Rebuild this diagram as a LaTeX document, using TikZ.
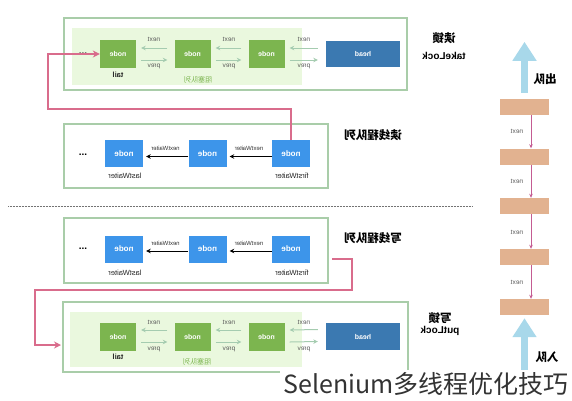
\documentclass[tikz,border=0pt]{standalone}
\usepackage{fontspec}
\usepackage{graphicx}
\setmainfont{Liberation Sans}
\newfontfamily\cjk{Noto Sans CJK SC}
\usetikzlibrary{arrows.meta}
\definecolor{boxg}{HTML}{A9CDA9}
\definecolor{fillg}{HTML}{EAF8DE}
\definecolor{nodeg}{HTML}{7CB54F}
\definecolor{headb}{HTML}{3B79B1}
\definecolor{nodeb}{HTML}{3D95EA}
\definecolor{pinkl}{HTML}{D96C8C}
\definecolor{tanc}{HTML}{E2B290}
\definecolor{lblue}{HTML}{A8D8EA}
\definecolor{nextp}{HTML}{C45C92}
\definecolor{arrg}{HTML}{A5CCB0}
\definecolor{qtext}{HTML}{7CB54F}
\newcommand{\mr}[1]{\reflectbox{#1}}
\begin{document}
\begin{tikzpicture}[x=1pt,y=-1pt,
  frame/.style={draw=boxg, line width=1.3pt, inner sep=0},
  gnode/.style={fill=nodeg, minimum width=36pt, minimum height=28pt, inner sep=0, text=white, font=\bfseries\fontsize{7}{8}\selectfont},
  headnode/.style={fill=headb, minimum width=74pt, minimum height=26pt, inner sep=0, text=white, font=\bfseries\fontsize{7}{8}\selectfont},
  bnode/.style={fill=nodeb, minimum width=38pt, minimum height=27pt, inner sep=0, text=white, font=\fontsize{8}{9}\selectfont\bfseries},
  lbl/.style={font=\fontsize{6.5}{7}\selectfont, text=black!65, inner sep=0},
  klbl/.style={font=\fontsize{6}{7}\selectfont, text=black!80, inner sep=0},
  wlbl/.style={font=\fontsize{7.5}{8}\selectfont, text=black!85, inner sep=0},
  garr/.style={draw=arrg, line width=1pt, -{Stealth[length=4.5pt,width=4.5pt]}},
  karr/.style={draw=black, line width=0.9pt, -{Stealth[length=4.5pt,width=4.5pt]}},
  pline/.style={draw=pinkl, line width=1.6pt, -{Stealth[length=7pt,width=7pt]}},
  tanbox/.style={fill=tanc, minimum width=49pt, minimum height=16pt, inner sep=0},
  parr/.style={draw=nextp, line width=0.8pt, -{Stealth[length=4pt,width=3.5pt]}},
  bigarr/.style={draw=lblue, line width=7pt, -{Triangle[width=23pt,length=19pt]}},
  ttl/.style={font=\cjk\bfseries\fontsize{11.5}{13}\selectfont, inner sep=0},
  ltl/.style={font=\bfseries\fontsize{10}{11}\selectfont, inner sep=0},
  dots/.style={font=\bfseries\fontsize{10}{11}\selectfont, inner sep=0},
  qlbl/.style={font=\cjk\fontsize{7}{8}\selectfont, text=qtext, inner sep=0}
]
\useasboundingbox (0,0) rectangle (572,400);

% ---------- top: take lock ----------
\node[frame, minimum width=343pt, minimum height=72pt] (tfr) at (235.5,54) {};
\fill[fillg] (72,28) rectangle (302,85);
\node[gnode] (t1) at (118,54) {\mr{node}};
\node[gnode] (t2) at (192.5,54) {\mr{node}};
\node[gnode] (t3) at (266.5,54) {\mr{node}};
\node[headnode] (th) at (363,54) {\mr{head}};
\draw[garr] ([xshift=-7pt,yshift=6pt]t2.west) -- ([xshift=5pt,yshift=6pt]t1.east);
\draw[garr] ([xshift=-7pt,yshift=6pt]t3.west) -- ([xshift=5pt,yshift=6pt]t2.east);
\draw[garr] ([xshift=-8pt,yshift=6pt]th.west) -- ([xshift=5pt,yshift=6pt]t3.east);
\draw[garr] ([xshift=5pt,yshift=-6pt]t1.east) -- ([xshift=-7pt,yshift=-6pt]t2.west);
\draw[garr] ([xshift=5pt,yshift=-6pt]t2.east) -- ([xshift=-7pt,yshift=-6pt]t3.west);
\draw[garr] ([xshift=5pt,yshift=-6pt]t3.east) -- ([xshift=-8pt,yshift=-6pt]th.west);
\foreach \x/\n in {154/a,229/b,304/c}{
  \node[lbl] (tn\n) at (\x,39.5) {\mr{next}};
  \node[lbl] (tp\n) at (\x,66) {\mr{prev}};
}
\node[wlbl, font=\bfseries\fontsize{7.5}{8}\selectfont] (ttail) at (118,75) {\mr{tail}};
\node[qlbl] (tq) at (198,80) {\mr{阻塞队列}};
\node[ttl] (tl1) at (444,38) {\mr{读锁}};
\node[ltl] (tl2) at (444,56) {\mr{takeLock}};

% ---------- read queue ----------
\node[frame, minimum width=264pt, minimum height=64pt] (rfr) at (196,156) {};
\node[bnode] (r1) at (124,153.5) {\mr{node}};
\node[bnode] (r2) at (207.5,153.5) {\mr{node}};
\node[bnode] (r3) at (291,153.5) {\mr{node}};
\draw[karr] ([yshift=-3pt]r3.west) -- ([yshift=-3pt,xshift=3pt]r2.east);
\draw[karr] ([yshift=-3pt]r2.west) -- ([yshift=-3pt,xshift=3pt]r1.east);
\node[klbl] (rn1) at (165.5,148) {\mr{nextWaiter}};
\node[klbl] (rn2) at (249,148) {\mr{nextWaiter}};
\node[wlbl] (rlast) at (125,176) {\mr{lastWaiter}};
\node[wlbl] (rfirst) at (292,176) {\mr{firstWaiter}};
\node[dots] (rd) at (83,155) {...};
\node[ttl] (rtl) at (373,135) {\mr{读线程队列}};

% pink connector: read queue -> take lock tail
\node[dots] (td) at (83,54) {...};
\draw[pline] (r3.north) |- (48,109) |- (t1.west);

% ---------- separator ----------
\draw[black!55, line width=0.8pt, dash pattern=on 1pt off 0.5pt] (8,206) -- (473,206);

% ---------- write queue ----------
\node[frame, minimum width=264pt, minimum height=65pt] (wfr) at (196,250.5) {};
\node[bnode] (w1) at (124,249) {\mr{node}};
\node[bnode] (w2) at (207.5,249) {\mr{node}};
\node[bnode] (w3) at (291,249) {\mr{node}};
\draw[karr] ([yshift=-2pt]w3.west) -- ([yshift=-2pt,xshift=3pt]w2.east);
\draw[karr] ([yshift=-2pt]w2.west) -- ([yshift=-2pt,xshift=3pt]w1.east);
\node[klbl] (wn1) at (165.5,243) {\mr{nextWaiter}};
\node[klbl] (wn2) at (249,243) {\mr{nextWaiter}};
\node[wlbl] (wlast) at (125,273) {\mr{lastWaiter}};
\node[wlbl] (wfirst) at (292,273) {\mr{firstWaiter}};
\node[dots] (wd) at (83,249) {...};
\node[ttl] (wtl) at (373,238) {\mr{写线程队列}};

% ---------- bottom: put lock ----------
\node[frame, minimum width=345pt, minimum height=70pt] (bfr) at (235.5,337) {};
\fill[fillg] (70,312) rectangle (302,367);
\node[gnode] (b1) at (118,337) {\mr{node}};
\node[gnode] (b2) at (192.5,337) {\mr{node}};
\node[gnode] (b3) at (266.5,337) {\mr{node}};
\node[headnode, minimum height=27pt] (bh) at (363,336.5) {\mr{head}};
\draw[garr] ([xshift=-7pt,yshift=7pt]b2.west) -- ([xshift=5pt,yshift=7pt]b1.east);
\draw[garr] ([xshift=-7pt,yshift=7pt]b3.west) -- ([xshift=5pt,yshift=7pt]b2.east);
\draw[garr] ([xshift=-8pt,yshift=7pt]bh.west) -- ([xshift=5pt,yshift=7pt]b3.east);
\draw[garr] ([xshift=5pt,yshift=-5pt]b1.east) -- ([xshift=-7pt,yshift=-5pt]b2.west);
\draw[garr] ([xshift=5pt,yshift=-5pt]b2.east) -- ([xshift=-7pt,yshift=-5pt]b3.west);
\draw[garr] ([xshift=5pt,yshift=-5pt]b3.east) -- ([xshift=-8pt,yshift=-5pt]bh.west);
\foreach \x/\n in {154/a,229/b,304/c}{
  \node[lbl] (bn\n) at (\x,322.5) {\mr{next}};
  \node[lbl] (bp\n) at (\x,349.5) {\mr{prev}};
}
\node[wlbl, font=\bfseries\fontsize{7.5}{8}\selectfont] (btail) at (118,357) {\mr{tail}};
\node[qlbl] (bq) at (197,362) {\mr{阻塞队列}};
\node[ttl] (bl1) at (440,318) {\mr{写锁}};
\node[ltl] (bl2) at (440,331) {\mr{putLock}};

% pink connector: write queue -> put lock
\coordinate (ws) at (332,259);
\coordinate (bin) at (61,345);
\draw[pline] (ws) -| (352,290) -| (35,345) -- (bin);

% ---------- right column ----------
\node[tanbox] (c1) at (524.5,107) {};
\node[tanbox] (c2) at (524.5,156.5) {};
\node[tanbox] (c3) at (524.5,206) {};
\node[tanbox] (c4) at (524.5,257) {};
\node[tanbox] (c5) at (524.5,307) {};
\foreach \a/\b in {c1/c2,c2/c3,c3/c4,c4/c5}{
  \draw[parr] ([xshift=6.5pt]\a.south) -- ([xshift=6.5pt]\b.north);
}
\node[lbl] (cn1) at (517,131) {\mr{next}};
\node[lbl] (cn2) at (517,181) {\mr{next}};
\node[lbl] (cn3) at (517,232) {\mr{next}};
\node[lbl] (cn4) at (517,282) {\mr{next}};
\draw[bigarr] ([yshift=6pt]c1.north) -- ++(0,-51);
\node[ttl] (out) at (545,79) {\mr{出队}};
\coordinate (inq) at (524.5,398);
\draw[bigarr] (inq) -- ([yshift=-3pt]c5.south);
\node[ttl] (inl) at (547,357) {\mr{入队}};

% ---------- watermark ----------
\node[fill=white, inner xsep=3pt, inner ysep=2pt, text=black!80, font=\cjk\fontsize{25}{28}\selectfont] (wm) at (426,384) {Selenium多线程优化技巧};
\end{tikzpicture}
\end{document}
